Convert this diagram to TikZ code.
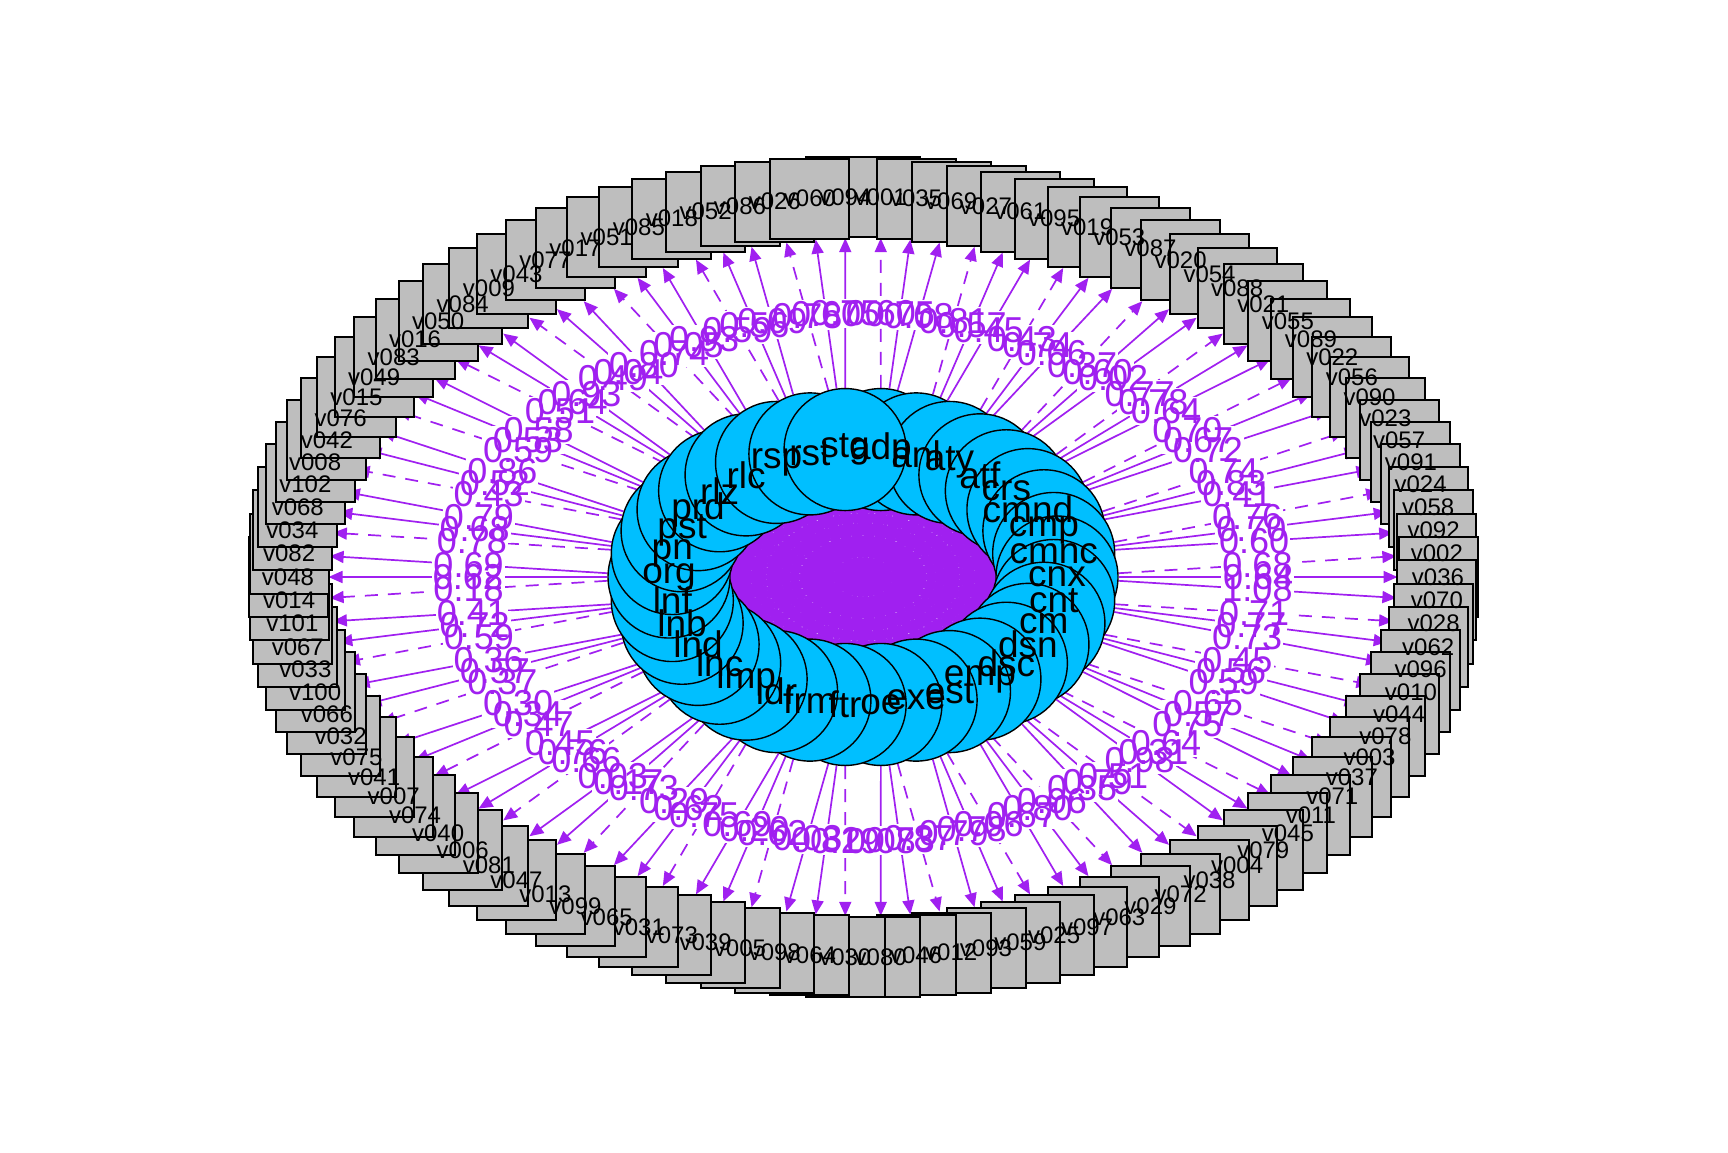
\documentclass[tikz,border=0pt]{standalone}
\usepackage{fontspec}
\setmainfont{Liberation Sans}
\usetikzlibrary{arrows.meta}
\pgfdeclarelayer{back}
\pgfdeclarelayer{edges}
\pgfsetlayers{back,edges,main}
\definecolor{epurple}{HTML}{A020F0}
\definecolor{lblue}{HTML}{00BFFF}
\definecolor{mgray}{HTML}{BEBEBE}
\def\outerlist{v094,v001,v035,v069,v027,v061,v095,v019,v053,v087,v020,v054,v088,v021,v055,v089,v022,v056,v090,v023,v057,v091,v024,v058,v092,v002,v036,v070,v028,v062,v096,v010,v044,v078,v003,v037,v071,v011,v045,v079,v004,v038,v072,v029,v063,v097,v025,v059,v093,v012,v046,v080,v030,v064,v098,v005,v039,v073,v031,v065,v099,v013,v047,v081,v006,v040,v074,v007,v041,v075,v032,v066,v100,v033,v067,v101,v014,v048,v082,v034,v068,v102,v008,v042,v076,v015,v049,v083,v016,v050,v084,v009,v043,v077,v017,v051,v085,v018,v052,v086,v026,v060}
\def\innerlist{adp,anl,aty,atf,crs,cmnd,cmp,cmnc,cnx,cnt,cm,dsn,dsc,emp,est,exe,oe,ftr,frm,ldr,lmp,lnc,lnd,lnb,lnf,org,pn,pst,prd,rlz,rlc,rsp,rst,stg}
\def\edgelist{adp/v001/0.60/dsh, adp/v035/0.75/sld, adp/v069/0.08/sld,
anl/v027/0.81/dsh, anl/v061/0.57/sld, anl/v095/0.45/sld,
aty/v019/0.43/dsh, aty/v053/0.74/sld, aty/v087/0.06/sld,
atf/v020/0.37/dsh, atf/v054/0.60/sld, atf/v088/0.02/sld,
crs/v021/0.77/dsh, crs/v055/0.78/sld, crs/v089/0.64/sld,
cmnd/v022/0.70/dsh, cmnd/v056/0.67/sld, cmnd/v090/0.72/sld,
cmp/v023/0.74/dsh, cmp/v057/0.83/sld, cmp/v091/0.41/sld,
cmnc/v024/0.76/dsh, cmnc/v058/0.70/sld, cmnc/v092/0.60/sld,
cnx/v002/0.68/dsh, cnx/v036/0.64/sld, cnx/v070/1.08/sld,
cnt/v028/0.71/dsh, cnt/v062/0.77/sld, cnt/v096/0.73/sld,
cm/v010/0.45/dsh, cm/v044/0.56/sld, cm/v078/0.59/sld,
dsn/v003/0.65/dsh, dsn/v037/0.57/sld, dsn/v071/0.75/sld,
dsc/v011/0.64/dsh, dsc/v045/0.31/sld, dsc/v079/0.98/sld,
emp/v004/0.51/dsh, emp/v038/0.79/sld, emp/v072/0.35/sld,
est/v029/0.06/dsh, est/v063/0.80/sld, est/v097/0.67/sld,
exe/v025/0.06/dsh, exe/v059/0.78/sld, exe/v093/0.79/sld,
oe/v012/0.87/dsh, oe/v046/0.73/sld, oe/v080/0.08/sld,
ftr/v030/0.19/dsh, ftr/v064/0.82/sld, ftr/v098/0.03/sld,
frm/v005/0.62/dsh, frm/v039/0.20/sld, frm/v073/0.69/sld,
ldr/v031/0.75/dsh, ldr/v065/0.62/sld, ldr/v099/0.29/sld,
lmp/v013/0.73/dsh, lmp/v047/0.17/sld, lmp/v081/0.03/sld,
lnc/v006/0.66/dsh, lnc/v040/0.76/sld, lnc/v074/0.45/sld,
lnd/v007/0.47/dsh, lnd/v041/0.34/sld, lnd/v075/0.30/sld,
lnb/v032/0.37/dsh, lnb/v066/0.57/sld, lnb/v100/0.36/sld,
lnf/v033/0.59/dsh, lnf/v067/0.72/sld, lnf/v101/0.41/sld,
org/v014/0.18/dsh, org/v048/0.62/sld, org/v082/0.69/sld,
pn/v034/0.78/dsh, pn/v068/0.68/sld, pn/v102/0.79/sld,
pst/v008/0.43/dsh, pst/v042/0.52/sld, pst/v076/0.86/sld,
prd/v015/0.59/dsh, prd/v049/0.53/sld, prd/v083/0.58/sld,
rlz/v016/0.51/dsh, rlz/v050/0.64/sld, rlz/v084/0.93/sld,
rlc/v009/0.49/dsh, rlc/v043/0.04/sld, rlc/v077/0.80/sld,
rsp/v017/0.74/dsh, rsp/v051/0.05/sld, rsp/v085/0.93/sld,
rst/v018/0.59/dsh, rst/v052/0.56/sld, rst/v086/0.09/sld,
stg/v026/0.78/dsh, stg/v060/0.60/sld, stg/v094/0.75/sld}
\begin{document}
\begin{tikzpicture}[x=0.5pt,y=-0.5pt,
  obox/.style={draw=black,line width=1pt,fill=mgray,minimum width=39.5pt,minimum height=40pt,inner sep=0pt},
  otext/.style={font=\fontsize{12}{12}\selectfont,inner sep=0pt},
  lat/.style={circle,draw=black,line width=0.7pt,fill=lblue,minimum size=61pt,inner sep=0pt},
  ltext/.style={font=\fontsize{18.5}{18.5}\selectfont,inner sep=0pt},
  ledge/.style={draw=epurple,line width=0.85pt,-{Triangle[length=7pt,width=6pt]}},
  dsh/.style={dash pattern=on 6.5pt off 5pt},
  sld/.style={solid},
  chord/.style={draw=epurple,line width=1.6pt},
  lbg/.style={fill=white,inner sep=0.5pt,font=\fontsize{18}{18}\selectfont},
  lbl/.style={text=epurple,inner sep=0.5pt,font=\fontsize{18}{18}\selectfont}]
\begin{pgfonlayer}{back}
\useasboundingbox[fill=white] (0,0) rectangle (1728,1152);
\end{pgfonlayer}
% outer indicator boxes
\foreach \n [count=\p] in \outerlist {
  \pgfmathsetmacro\ang{(\p-1.5)*3.5294118}
  \node[obox] (\n) at ({863+575*sin(\ang)},{577-380*cos(\ang)}) {};
}
\foreach \n in \outerlist { \node[otext] (\n-t) at (\n) {\n}; }
% latent circles
\foreach \n [count=\k] in \innerlist {
  \pgfmathsetmacro\ang{(\k-0.5)*10.5882353}
  \node[lat] (\n) at ({863+194*sin(\ang)},{577-128*cos(\ang)}) {};
}
\foreach \n in \innerlist { \node[ltext] (\n-t) at (\n) {\n}; }
% connectors
\begin{pgfonlayer}{edges}
\foreach \a [count=\i] in \innerlist {
  \foreach \b [count=\j] in \innerlist {
    \ifnum\j>\i \draw[chord] (\a.center) -- (\b.center); \fi
  }
}
\foreach \s/\d/\l/\st in \edgelist {
  \draw[ledge,\st] (\s) -- coordinate[pos=0.5] (m-\d) (\d);
}
\end{pgfonlayer}
\foreach \s/\d/\l/\st in \edgelist { \node[lbg] (b-\d) at (m-\d) {\phantom{\l}}; }
\foreach \s/\d/\l/\st in \edgelist { \node[lbl] (l-\d) at (m-\d) {\l}; }
\end{tikzpicture}
\end{document}
